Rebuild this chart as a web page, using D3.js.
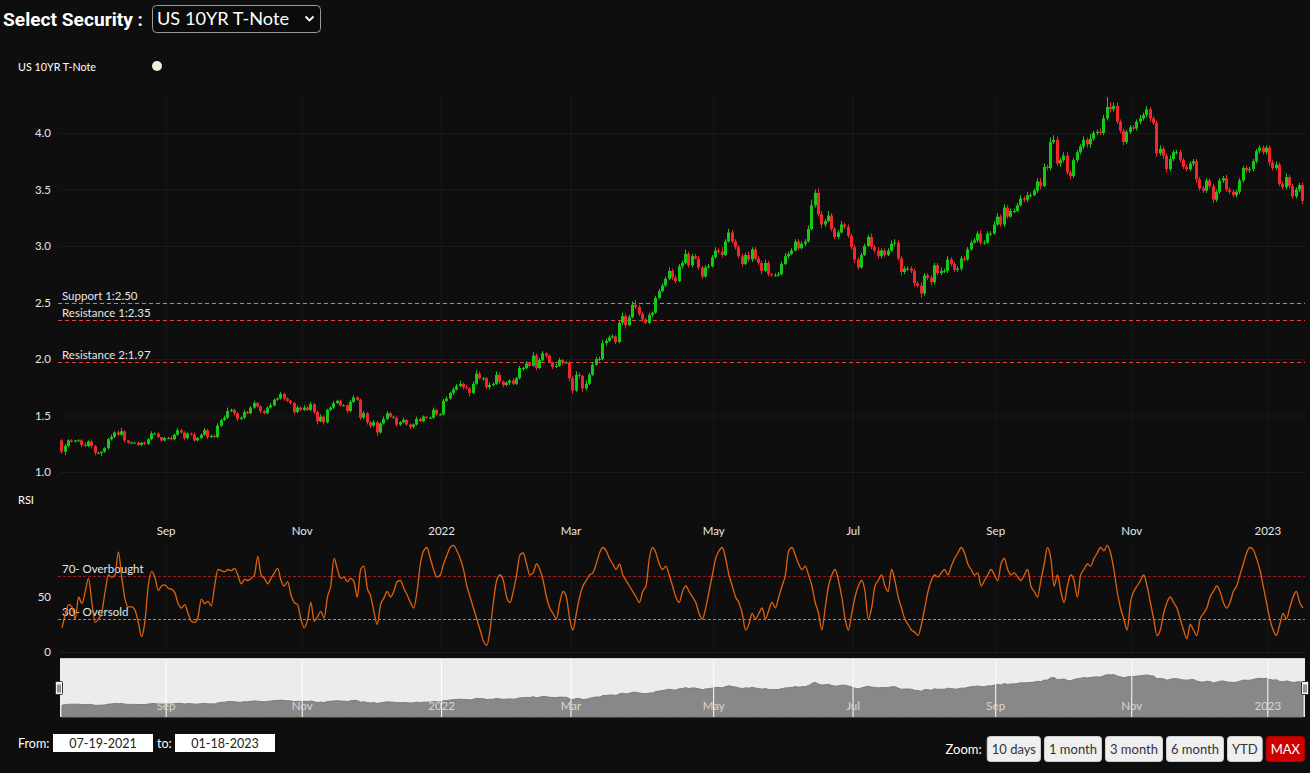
<!DOCTYPE html>
<html><head><meta charset="utf-8">
<script src="https://cdn.jsdelivr.net/npm/d3@7"></script>
<style>
html,body{margin:0;padding:0;background:#0e0e0e;overflow:hidden;}
svg{display:block;font-family:Lato,'Open Sans',sans-serif;}
</style></head><body>
<svg id="c" width="1310" height="773"></svg>
<script>
// ---------------- DATA ----------------
const securityName = "US 10YR T-Note";
const startDate = "2021-07-19", endDate = "2023-01-18";
const holidays = ["2021-09-06","2021-10-11","2021-11-11","2021-11-25","2021-12-24","2022-01-17","2022-02-21","2022-04-15","2022-05-30","2022-06-20","2022-07-04","2022-09-05","2022-10-10","2022-11-11","2022-11-24","2022-12-26","2023-01-02","2023-01-16"];
const firstOpen = 1.28;
const closes = [
1.18,1.23,1.28,1.27,1.28,1.28,1.24,1.23,1.27,1.23,
1.17,1.17,1.18,1.21,1.29,1.31,1.35,1.33,1.36,1.28,1.26,1.26,1.26,1.24,1.26,1.25,1.29,1.34,1.34,1.31,1.28,1.30,
1.30,1.29,1.33,1.37,1.35,1.30,1.34,1.33,1.28,1.30,1.33,1.37,1.31,1.32,1.31,1.41,1.46,1.48,1.54,1.55,1.52,
1.47,1.48,1.53,1.52,1.57,1.61,1.58,1.54,1.52,1.57,1.59,1.64,1.65,1.69,1.65,1.63,1.61,1.53,1.57,1.55,
1.57,1.55,1.60,1.53,1.45,1.49,1.44,1.55,1.57,1.61,1.63,1.59,1.59,1.54,1.62,1.66,1.64,1.48,1.52,1.44,
1.41,1.44,1.35,1.43,1.47,1.52,1.49,1.48,1.42,1.44,1.46,1.42,1.40,1.42,1.47,1.45,1.49,1.48,1.48,1.55,1.51,1.51,
1.63,1.65,1.70,1.73,1.76,1.78,1.75,1.74,1.70,1.78,1.87,1.83,1.83,1.75,1.77,1.78,1.86,1.80,1.77,1.79,
1.81,1.78,1.83,1.92,1.92,1.96,1.94,2.03,1.92,1.99,2.05,2.03,1.97,1.93,1.94,1.99,1.97,1.97,1.83,
1.72,1.86,1.85,1.74,1.78,1.86,1.95,2.00,2.00,2.14,2.16,2.19,2.20,2.15,2.32,2.38,2.30,2.37,2.48,2.46,2.40,2.35,2.32,
2.39,2.41,2.54,2.60,2.65,2.71,2.78,2.72,2.69,2.82,2.85,2.93,2.83,2.91,2.89,2.81,2.73,2.81,2.82,2.90,
2.96,2.95,2.92,3.04,3.12,3.04,2.99,2.91,2.84,2.92,2.88,2.97,2.89,2.85,2.78,2.85,2.75,2.74,2.74,2.75,2.84,
2.91,2.93,2.96,3.04,2.98,3.02,3.04,3.15,3.36,3.47,3.28,3.19,3.22,3.27,3.15,3.08,3.12,3.19,3.17,3.09,2.99,
2.88,2.81,2.92,3.00,3.08,2.99,2.96,2.91,2.96,2.92,2.96,3.02,3.03,2.89,2.77,2.80,2.80,2.78,2.67,2.65,
2.58,2.74,2.72,2.68,2.83,2.76,2.78,2.78,2.88,2.84,2.79,2.80,2.89,2.88,2.97,3.03,3.05,3.11,3.03,3.03,3.11,3.11,3.19,
3.26,3.19,3.34,3.26,3.31,3.31,3.36,3.42,3.41,3.45,3.45,3.49,3.57,3.53,3.70,3.69,3.92,3.94,3.73,3.76,3.80,
3.65,3.62,3.76,3.83,3.88,3.94,3.90,3.95,4.00,4.01,4.00,4.13,4.23,4.21,4.24,4.10,4.02,3.92,4.01,4.05,
4.04,4.10,4.13,4.16,4.21,4.13,4.09,3.82,3.86,3.80,3.68,3.77,3.83,3.83,3.76,3.70,3.68,3.73,3.75,3.59,
3.51,3.49,3.58,3.53,3.41,3.48,3.58,3.60,3.50,3.48,3.45,3.48,3.58,3.69,3.67,3.68,3.75,3.84,3.87,3.83,3.87,
3.74,3.69,3.72,3.55,3.52,3.61,3.53,3.44,3.50,3.54,3.40];
// wick lengths above / below the body, in hundredths
const wickUp = [
1,2,1,1,0,1,1,2,1,1,
1,1,0,1,1,2,1,2,3,1,0,1,1,1,0,1,1,2,1,1,0,1,
1,2,1,2,1,1,1,1,2,1,1,2,1,1,1,2,1,2,3,1,1,
1,1,2,1,1,2,1,1,1,1,2,1,1,2,1,1,1,1,2,1,
2,1,2,1,1,2,1,1,1,2,1,1,1,1,2,2,1,1,2,1,
1,2,1,1,2,2,1,1,1,1,2,1,1,1,2,1,1,0,1,2,1,1,
2,2,1,2,2,3,1,2,1,2,3,2,1,1,2,1,3,2,1,1,
1,2,1,2,1,2,1,3,2,2,2,1,1,1,2,2,1,1,1,
2,3,2,1,3,2,2,2,2,3,2,2,2,1,2,3,2,2,3,4,2,2,1,
2,1,2,2,2,2,3,2,2,2,2,4,2,2,2,2,1,2,2,2,
3,2,4,2,3,2,2,2,2,2,3,2,2,2,2,3,2,1,2,2,2,
3,2,2,2,2,2,2,3,5,3,4,3,2,4,2,2,2,3,2,2,2,
2,2,2,2,2,3,2,3,2,2,2,3,3,2,2,2,2,2,2,2,
3,2,2,2,2,2,3,2,3,2,2,2,2,2,2,2,2,2,3,2,2,2,3,
3,2,3,2,2,2,2,3,2,3,2,2,3,3,3,2,4,4,3,2,3,
3,2,2,2,2,3,2,4,2,2,3,3,9,4,3,3,2,2,2,2,
2,2,3,2,3,2,2,2,3,2,2,3,2,2,2,2,2,2,2,2,
2,2,2,2,2,2,2,2,3,2,2,2,2,2,2,2,2,2,2,2,2,
2,2,3,2,2,3,2,2,2,2,2];
const wickDn = [
2,3,1,1,1,1,2,1,1,2,
2,1,3,1,1,1,1,1,1,2,1,1,0,1,1,1,1,1,1,1,1,1,
1,1,1,1,1,2,1,1,1,1,1,1,2,1,1,1,1,1,1,1,2,
2,1,1,1,1,1,1,2,1,1,1,1,1,1,2,1,1,2,1,1,
1,1,1,2,3,1,2,1,1,1,1,1,1,2,1,1,1,2,1,2,
2,1,3,1,1,1,1,1,2,1,1,1,2,1,1,1,1,1,1,1,1,1,
1,1,1,2,1,1,2,1,3,1,1,1,2,2,2,1,1,2,2,1,
2,1,1,1,2,1,1,1,2,1,1,2,1,2,1,1,2,1,3,
3,1,2,3,2,1,1,1,2,1,2,1,1,2,1,2,3,1,1,2,2,2,1,
1,2,1,1,1,1,1,2,2,1,2,1,2,2,1,2,2,1,1,1,
1,2,2,1,1,2,2,2,2,1,2,2,2,2,3,1,2,1,1,1,1,
1,2,1,1,2,1,2,1,1,2,2,3,2,1,2,2,2,1,2,2,2,
3,2,1,1,1,2,2,2,2,2,1,1,2,2,3,2,2,2,3,2,
4,2,2,3,2,2,2,2,2,2,2,2,2,2,1,1,1,2,2,2,1,2,1,
1,2,2,2,1,2,1,1,2,2,2,1,2,3,1,2,2,2,2,3,2,
2,3,2,2,2,2,3,3,2,2,2,2,2,3,2,2,2,3,2,2,
2,2,2,2,2,3,2,3,2,3,3,2,2,2,2,2,2,2,2,3,
2,2,2,2,3,2,2,2,2,2,2,2,2,2,2,2,2,2,2,2,2,
3,2,2,2,2,2,2,2,2,2,3];
const rsiValues = [
22,34,43,41,30,50,44,55,67,45,27,30,36,55,70,68,70,91,68,48,41,41,38,27,14,28,60,73,68,56,60,61,58,57,54,44,40,43,35,28,27,32,48,44,46,42,60,75,74,73,75,74,76,70,62,66,65,67,70,87,70,67,62,67,72,76,65,60,64,52,45,43,30,22,29,45,28,32,37,31,50,60,85,75,67,68,64,67,64,50,75,78,58,51,37,25,43,49,55,50,55,64,65,
58,52,45,40,55,80,92,95,85,75,68,70,80,88,95,97,92,85,75,60,50,40,30,20,10,6,20,45,65,70,65,50,45,55,70,88,90,80,70,72,80,75,65,50,40,35,30,45,55,50,30,20,35,50,60,65,70,72,80,90,95,92,85,80,75,80,70,65,60,55,50,45,55,60,85,95,90,80,75,78,70,60,50,45,55,60,55,50,45,35,30,40,55,70,85,92,95,85,70,60,50,45,35,20,25,35,30,35,40,30,38,45,40,50,60,70,92,95,88,80,75,78,70,60,45,35,20,40,60,70,75,65,50,30,20,35,50,60,65,55,30,40,60,65,70,60,55,75,65,50,40,30,25,20,18,15,25,40,55,65,70,68,72,75,70,78,85,90,95,90,80,75,70,72,60,65,70,75,70,65,80,85,75,70,72,68,65,70,75,60,55,50,65,80,95,85,60,70,55,45,60,70,65,50,70,75,80,78,85,90,95,92,97,90,75,55,40,30,20,45,55,60,65,70,60,45,30,15,20,35,45,50,45,40,30,20,12,25,20,15,30,35,40,50,55,60,55,45,40,45,55,60,70,80,90,95,93,85,75,60,45,30,20,15,25,35,30,40,50,55,45,40];
const yTicks = [1.0,1.5,2.0,2.5,3.0,3.5,4.0];
const rsiTicks = [0,50];
const xTickDates = ["2021-09-01","2021-11-01","2022-01-03","2022-03-01","2022-05-02","2022-07-01","2022-09-01","2022-11-01","2023-01-03"];
const xTickLabels = ["Sep","Nov","2022","Mar","May","Jul","Sep","Nov","2023"];
const priceLevels = [
  {label:"Support 1:2.50", value:2.50, kind:"support"},
  {label:"Resistance 1:2.35", value:2.35, kind:"resistance"},
  {label:"Resistance 2:1.97", value:1.97, kind:"resistance"}];
const rsiLevels = [
  {label:"70- Overbought", value:70, kind:"over"},
  {label:"30- Oversold", value:30, kind:"under"}];
const fromText = "07-19-2021", toText = "01-18-2023";
const zoomButtons = ["10 days","1 month","3 month","6 month","YTD","MAX"];
const activeButton = "MAX";

// ---------------- CHART ----------------
const svg = d3.select("#c");
const W = 1310, H = 773;
svg.append("rect").attr("width",W).attr("height",H).attr("fill","#0e0e0e");

const parse = d3.utcParse("%Y-%m-%d"), fmt = d3.utcFormat("%Y-%m-%d");
const hol = new Set(holidays);
const dates = d3.utcDays(parse(startDate), d3.utcDay.offset(parse(endDate),1))
  .filter(d => d.getUTCDay()%6 !== 0 && !hol.has(fmt(d)));
const n = closes.length;
const data = closes.map((c,i) => {
  const o = i ? closes[i-1] : firstOpen;
  return {i, date:dates[i], o, c, h:Math.max(o,c)+wickUp[i]/100, l:Math.min(o,c)-wickDn[i]/100};
});

const plotL = 60, plotR = 1305;
const x = d3.scaleBand().domain(d3.range(n)).range([plotL, plotR]).paddingInner(0).paddingOuter(0.1);
const cx = i => x(i) + x.bandwidth()/2;
const y = d3.scaleLinear().domain([1,4]).range([472,133]);
const ry = d3.scaleLinear().domain([0,100]).range([652,542]);
const dateIdx = new Map(dates.map((d,i)=>[fmt(d),i]));
const tickIdx = xTickDates.map(d => dateIdx.get(d));
const tickLabel = new Map(tickIdx.map((t,k)=>[t,xTickLabels[k]]));
const TICKDX = -2;
// coloured 1px lines snap to even pixel rows
const rowEven = v => Math.round(v/2)*2 + 0.5;

const FONT = "Lato,'Open Sans',sans-serif";
const TXT = "#e6e6e6";

// header
svg.append("text").attr("x",3).attr("y",26).attr("fill","#fff")
  .attr("font-family","Roboto,'Open Sans',sans-serif").attr("font-weight",700).attr("font-size",19)
  .attr("textLength",140).attr("lengthAdjust","spacingAndGlyphs").text("Select Security :");
svg.append("rect").attr("x",152.5).attr("y",5.5).attr("width",168).attr("height",27).attr("rx",4)
  .attr("fill","#0b0b0b").attr("stroke","#9a9a9a");
svg.append("text").attr("x",157).attr("y",25).attr("fill","#fff").attr("font-family",FONT)
  .attr("font-size",17).attr("textLength",132).attr("lengthAdjust","spacingAndGlyphs").text(securityName);
svg.append("path").attr("d","M305.5,16.5 l4,4 l4,-4").attr("fill","none").attr("stroke","#fff").attr("stroke-width",1.8);

// legend
svg.append("text").attr("x",18).attr("y",71).attr("fill","#fff").attr("font-size",11)
  .attr("textLength",78).attr("lengthAdjust","spacingAndGlyphs").text(securityName);
svg.append("circle").attr("cx",157).attr("cy",66).attr("r",5).attr("fill","#e6f6d2");

// grid (price pane)
svg.append("g").attr("transform",`translate(${plotL},0)`)
  .call(d3.axisLeft(y).tickValues(yTicks).tickSize(-(plotR-plotL)).tickFormat(""))
  .call(g=>g.select(".domain").remove())
  .call(g=>g.selectAll("line").attr("stroke","#1a1a1a"));
svg.append("g").attr("transform",`translate(${TICKDX},520)`)
  .call(d3.axisBottom(x).tickValues(tickIdx).tickSize(-(520-95)).tickFormat(""))
  .call(g=>g.select(".domain").remove())
  .call(g=>g.selectAll("line").attr("stroke","#1a1a1a"));
svg.append("g").attr("transform",`translate(${TICKDX},652)`)
  .call(d3.axisBottom(x).tickValues(tickIdx).tickSize(-(652-542)).tickFormat(""))
  .call(g=>g.select(".domain").remove())
  .call(g=>g.selectAll("line").attr("stroke","#1a1a1a"));

// y labels
svg.append("g").attr("transform",`translate(${plotL},0)`)
  .call(d3.axisLeft(y).tickValues(yTicks).tickSize(0).tickPadding(9).tickFormat(d3.format(".1f")))
  .call(g=>g.select(".domain").remove())
  .call(g=>g.selectAll("text").attr("fill",TXT).attr("font-size",11.5).attr("font-family",FONT));

// price levels
priceLevels.forEach(p => {
  const red = p.kind !== "support";
  const yy = red ? rowEven(y(p.value)) : Math.ceil(y(p.value))+0.5;
  svg.append("path").attr("d",`M58,${yy}H${plotR}`)
    .attr("stroke", red ? "#e8403a" : "#8f8f99").attr("stroke-width", 1)
    .attr("fill","none").attr("stroke-dasharray","4,3");
  svg.append("text").attr("x",62).attr("y",yy-3.5).attr("fill",TXT).attr("font-size",11.5).text(p.label);
});

// candles
const cg = svg.append("g");
const UP = "#14c814", DOWN = "#f0282e";
const bw = Math.max(2, Math.round(x.bandwidth()));
cg.selectAll("line.w").data(data).join("line")
  .attr("x1",d=>Math.round(x(d.i))+1.5).attr("x2",d=>Math.round(x(d.i))+1.5)
  .attr("y1",d=>y(d.h)).attr("y2",d=>y(d.l))
  .attr("stroke",d=>d.c>=d.o?UP:DOWN).attr("stroke-width",1);
cg.selectAll("rect.b").data(data).join("rect")
  .attr("x",d=>Math.round(x(d.i))).attr("width",bw)
  .attr("y",d=>Math.min(y(d.o),y(d.c)))
  .attr("height",d=>Math.max(1,Math.abs(y(d.o)-y(d.c))))
  .attr("fill",d=>d.c>=d.o?UP:DOWN);

// x axis labels
svg.append("g").attr("transform",`translate(${TICKDX},522)`)
  .call(d3.axisBottom(x).tickValues(tickIdx).tickSize(0).tickPadding(5).tickFormat(i=>tickLabel.get(i)))
  .call(g=>g.select(".domain").remove())
  .call(g=>g.selectAll("text").attr("fill",TXT).attr("font-size",11.5).attr("font-family",FONT));

// RSI pane
svg.append("text").attr("x",18).attr("y",504).attr("fill","#fff").attr("font-size",11).text("RSI");
svg.append("g").attr("transform",`translate(${plotL},0)`)
  .call(d3.axisLeft(ry).tickValues(rsiTicks).tickSize(0).tickPadding(9))
  .call(g=>g.select(".domain").remove())
  .call(g=>g.selectAll("text").attr("fill",TXT).attr("font-size",11.5).attr("font-family",FONT));
svg.append("line").attr("x1",plotL).attr("x2",plotR).attr("y1",652.5).attr("y2",652.5).attr("stroke","#1f1f1f");
rsiLevels.forEach(p => {
  const over = p.kind === "over";
  const yy = over ? rowEven(ry(p.value)) : Math.round(ry(p.value))+0.5;
  svg.append("path").attr("d",`M58,${yy}H${plotR}`)
    .attr("stroke", over ? "#9a1e1e" : "#8a8a8a").attr("stroke-width",1)
    .attr("fill","none").attr("stroke-dasharray","3,2");
  svg.append("text").attr("x",62).attr("y",yy-3.5).attr("fill",TXT).attr("font-size",11.5).text(p.label);
});
svg.append("path").datum(rsiValues)
  .attr("d", d3.line().x((v,i)=>cx(i)).y(v=>ry(v)).curve(d3.curveMonotoneX))
  .attr("fill","none").attr("stroke","#e0620c").attr("stroke-width",1.3).attr("stroke-linejoin","round");

// navigator
const navT = 658, navB = 717;
const ny = d3.scaleLinear().domain([0,5.9]).range([navB,navT]);
svg.append("rect").attr("x",plotL).attr("y",navT).attr("width",plotR-plotL).attr("height",navB-navT).attr("fill","#ececec");
svg.append("path").datum(data)
  .attr("d", d3.area().x(d=>cx(d.i)).y0(navB).y1(d=>ny(d.c)))
  .attr("fill","#888888").attr("stroke","#7b7b7b").attr("stroke-width",1);
svg.append("g").attr("transform",`translate(${TICKDX},${navB})`)
  .call(d3.axisBottom(x).tickValues(tickIdx).tickSize(-(navB-navT)).tickFormat(""))
  .call(g=>g.select(".domain").remove())
  .call(g=>g.selectAll("line").attr("stroke","#ffffff").attr("stroke-width",1));
svg.append("g").attr("transform",`translate(${TICKDX},${navB-15})`)
  .call(d3.axisBottom(x).tickValues(tickIdx).tickSize(0).tickPadding(0).tickFormat(i=>tickLabel.get(i)))
  .call(g=>g.select(".domain").remove())
  .call(g=>g.selectAll("text").attr("fill","#d9d6cf").attr("font-size",11.5).attr("font-family",FONT));
svg.append("line").attr("x1",plotL).attr("x2",plotR).attr("y1",navT+0.5).attr("y2",navT+0.5).attr("stroke","#cfcfcf");
[plotL-4, plotR-3].forEach(hx => {
  const g = svg.append("g").attr("transform",`translate(${hx},681)`);
  g.append("rect").attr("x",-0.5).attr("y",0.5).attr("width",7).attr("height",13).attr("rx",1)
    .attr("fill","#f2f2f2").attr("stroke","#333");
  g.append("line").attr("x1",2).attr("x2",2).attr("y1",3.5).attr("y2",11.5).attr("stroke","#333");
  g.append("line").attr("x1",4).attr("x2",4).attr("y1",3.5).attr("y2",11.5).attr("stroke","#333");
});

// range inputs
svg.append("text").attr("x",18).attr("y",748).attr("fill","#fff").attr("font-size",12.5).text("From:");
svg.append("rect").attr("x",53).attr("y",734).attr("width",100).attr("height",18).attr("fill","#fff");
svg.append("text").attr("x",103).attr("y",747.5).attr("text-anchor","middle").attr("fill","#222").attr("font-size",12.5).text(fromText);
svg.append("text").attr("x",157).attr("y",748).attr("fill","#fff").attr("font-size",12.5).text("to:");
svg.append("rect").attr("x",175).attr("y",734).attr("width",100).attr("height",18).attr("fill","#fff");
svg.append("text").attr("x",225).attr("y",747.5).attr("text-anchor","middle").attr("fill","#222").attr("font-size",12.5).text(toText);

// zoom buttons (laid out right-to-left from plot edge)
const bg = svg.append("g");
const tmp = bg.append("text").attr("font-size",13);
const widths = zoomButtons.map(t => { tmp.text(t); return tmp.node().getComputedTextLength() + 10; });
tmp.remove();
let bx = plotR;
const pos = [];
for (let k = zoomButtons.length-1; k >= 0; k--) { bx -= widths[k]; pos[k] = bx; bx -= 3; }
zoomButtons.forEach((t,k) => {
  const act = t === activeButton;
  bg.append("rect").attr("x",pos[k]+0.5).attr("y",736.5).attr("width",widths[k]-1).attr("height",25).attr("rx",3)
    .attr("fill", act ? "#cc0000" : "#efefef").attr("stroke", act ? "#b00000" : "#cfcfcf");
  bg.append("text").attr("x",pos[k]+widths[k]/2).attr("y",753.5).attr("text-anchor","middle")
    .attr("font-size",13).attr("fill", act ? "#fff" : "#333").text(t);
});
svg.append("text").attr("x",pos[0]-5).attr("y",753.5).attr("text-anchor","end").attr("fill","#fff").attr("font-size",13).text("Zoom:");
</script>
</body></html>
